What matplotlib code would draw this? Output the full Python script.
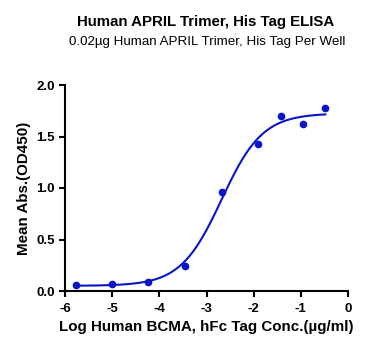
import numpy as np
import matplotlib.pyplot as plt

plt.rcParams['font.family'] = ['Liberation Sans', 'DejaVu Sans']
plt.rcParams['axes.unicode_minus'] = False

# measured points (log conc, OD450)
log_conc = [-5.77, -5.0, -4.23, -3.46, -2.68, -1.90, -1.43, -0.95, -0.48]
od450 = [0.058, 0.065, 0.087, 0.245, 0.96, 1.43, 1.70, 1.62, 1.78]

# 4PL fit parameters
bottom, top, log_ec50, hill = 0.05, 1.725, -2.68, 1.0

blue = '#0a14c8'

fig = plt.figure(figsize=(3.91, 3.5), dpi=100)
ax = fig.add_axes([65/391, 59/350, 283/391, 206/350])

xs = np.linspace(min(log_conc), max(log_conc), 300)
ys = bottom + (top - bottom) / (1 + 10 ** ((log_ec50 - xs) * hill))
ax.plot(xs, ys, color=blue, lw=1.5)
ax.plot(log_conc, od450, 'o', color=blue, ms=4.5)

ax.set_xlim(-6, 0)
ax.set_ylim(0, 2)
ax.set_xticks(range(-6, 1))
ax.set_yticks([0, 0.5, 1.0, 1.5, 2.0])
ax.set_yticklabels(['0.0', '0.5', '1.0', '1.5', '2.0'])
for s in ['top', 'right']:
    ax.spines[s].set_visible(False)
for s in ['left', 'bottom']:
    ax.spines[s].set_linewidth(1.5)
ax.tick_params(width=1.5, length=4, labelsize=9.5)
ax.tick_params(axis='x', pad=5)
for lab in ax.get_xticklabels() + ax.get_yticklabels():
    lab.set_fontweight('bold')

ax.set_xlabel('Log Human BCMA, hFc Tag Conc.(\u00b5g/ml)', fontsize=10.9, fontweight='bold', labelpad=3)
ax.set_ylabel('Mean Abs.(OD450)', fontsize=10.9, fontweight='bold', labelpad=4)

fig.text(206/391, 1 - 22/350, 'Human APRIL Trimer, His Tag ELISA', ha='center', va='center',
         fontsize=10.8, fontweight='bold')
fig.text(207/391, 1 - 42/350, '0.02\u00b5g Human APRIL Trimer, His Tag Per Well', ha='center', va='center',
         fontsize=9.6)

fig.savefig('out.png', dpi=100)
